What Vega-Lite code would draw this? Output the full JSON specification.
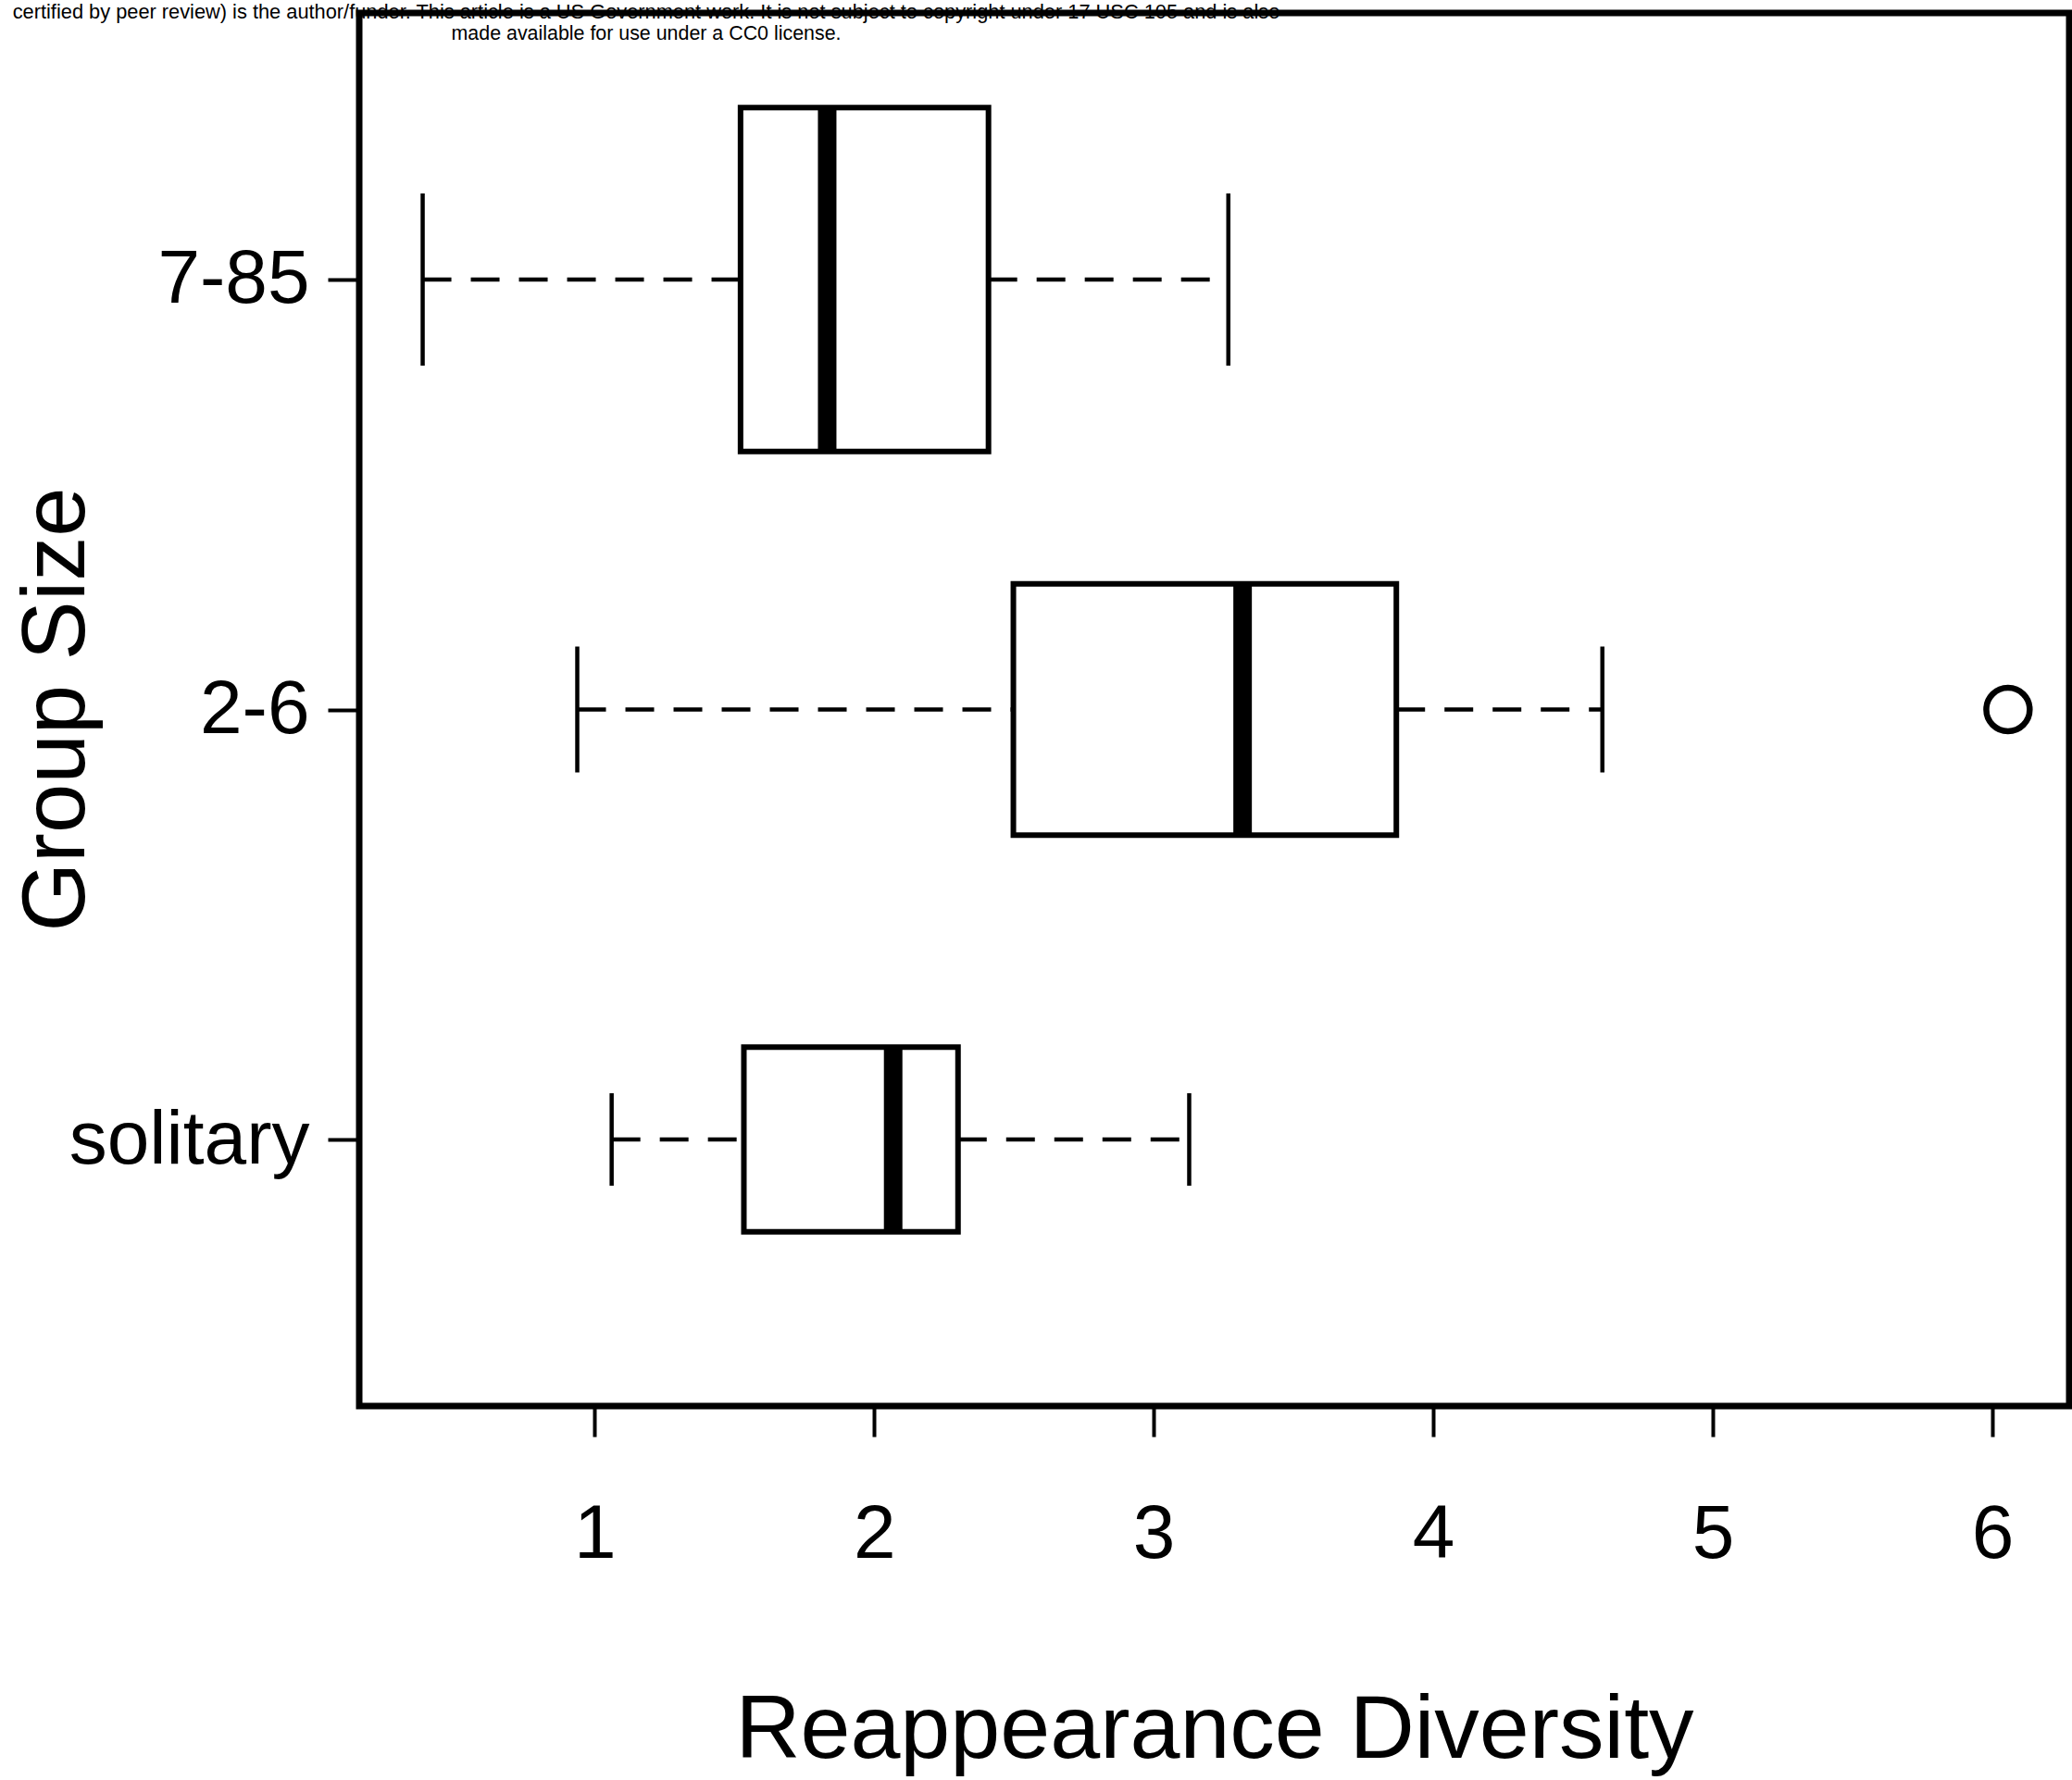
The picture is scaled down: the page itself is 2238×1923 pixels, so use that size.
{
  "$schema": "https://vega.github.io/schema/vega-lite/v6.json",
  "width": 1847,
  "height": 1505,
  "autosize": {"type": "none"},
  "padding": {"left": 388, "top": 14, "right": 3, "bottom": 404},
  "background": "white",
  "title": {
    "text": "certified by peer review) is the author/funder. This article is a US Government work. It is not subject to copyright under 17 USC 105 and is also",
    "subtitle": "made available for use under a CC0 license.",
    "anchor": "start",
    "align": "center",
    "frame": "group",
    "dx": 310,
    "offset": -33,
    "font": "Liberation Sans",
    "fontSize": 21.8,
    "fontWeight": "normal",
    "color": "black",
    "subtitleFont": "Liberation Sans",
    "subtitleFontSize": 21.4,
    "subtitleColor": "black",
    "subtitlePadding": 1
  },
  "datasets": {
    "boxes": [
      {"group": "7-85", "lower": 0.385, "q1": 1.522, "median": 1.832, "q3": 2.409, "upper": 3.267, "relwidth": 0.8},
      {"group": "2-6", "lower": 0.938, "q1": 2.498, "median": 3.318, "q3": 3.868, "upper": 4.605, "relwidth": 0.585},
      {"group": "solitary", "lower": 1.061, "q1": 1.534, "median": 2.068, "q3": 2.3, "upper": 3.127, "relwidth": 0.43}
    ],
    "outliers": [
      {"group": "2-6", "value": 6.056}
    ]
  },
  "config": {
    "font": "Liberation Sans",
    "view": {"stroke": "black", "strokeWidth": 7, "fill": "white"},
    "axis": {"grid": false, "domain": false, "tickColor": "black", "labelColor": "black", "titleColor": "black", "labelFont": "Liberation Sans", "titleFont": "Liberation Sans", "titleFontWeight": "normal", "labelLimit": 1000}
  },
  "resolve": {"scale": {"size": "independent"}},
  "encoding": {
    "y": {
      "field": "group",
      "type": "nominal",
      "scale": {"type": "point", "domain": ["7-85", "2-6", "solitary"], "padding": 0.62},
      "axis": {
        "title": "Group Size",
        "titleFontSize": 96,
        "titleAngle": -90,
        "titleAlign": "center",
        "titleBaseline": "alphabetic",
        "titleX": -298,
        "titleY": 752,
        "labelFontSize": 82,
        "labelPadding": 20,
        "labelLimit": 1000,
        "tickSize": 34,
        "tickWidth": 4,
        "labelAngle": 0
      }
    }
  },
  "layer": [
    {
      "data": {"name": "boxes"},
      "mark": {"type": "rule", "stroke": "black", "strokeWidth": 4.5, "strokeDash": [31, 21], "opacity": 1},
      "encoding": {
        "x": {
          "field": "lower",
          "type": "quantitative",
          "scale": {"domain": [0.158, 6.275], "nice": false, "zero": false},
          "axis": {
            "title": "Reappearance Diversity",
            "values": [1, 2, 3, 4, 5, 6],
            "format": "d",
            "titleFontSize": 97,
            "titleBaseline": "alphabetic",
            "titleY": 379,
            "labelFontSize": 82,
            "labelPadding": 65,
            "tickSize": 33,
            "tickWidth": 4
          }
        },
        "x2": {"field": "q1"}
      }
    },
    {
      "data": {"name": "boxes"},
      "mark": {"type": "rule", "stroke": "black", "strokeWidth": 4.5, "strokeDash": [31, 21], "opacity": 1},
      "encoding": {
        "x": {"field": "q3", "type": "quantitative"},
        "x2": {"field": "upper"}
      }
    },
    {
      "data": {"name": "boxes"},
      "mark": {"type": "tick", "color": "black", "thickness": 4.5, "orient": "vertical", "opacity": 1},
      "encoding": {
        "x": {"field": "lower", "type": "quantitative"},
        "size": {"field": "relwidth", "type": "quantitative", "scale": {"domain": [0, 1], "range": [0, 232.25]}, "legend": null}
      }
    },
    {
      "data": {"name": "boxes"},
      "mark": {"type": "tick", "color": "black", "thickness": 4.5, "orient": "vertical", "opacity": 1},
      "encoding": {
        "x": {"field": "upper", "type": "quantitative"},
        "size": {"field": "relwidth", "type": "quantitative", "scale": {"domain": [0, 1], "range": [0, 232.25]}, "legend": null}
      }
    },
    {
      "data": {"name": "boxes"},
      "mark": {"type": "bar", "fill": "white", "stroke": "black", "strokeWidth": 6, "orient": "horizontal", "opacity": 1},
      "encoding": {
        "x": {"field": "q1", "type": "quantitative"},
        "x2": {"field": "q3"},
        "size": {"field": "relwidth", "type": "quantitative", "scale": {"domain": [0, 1], "range": [0, 464.5]}, "legend": null}
      }
    },
    {
      "data": {"name": "boxes"},
      "mark": {"type": "tick", "color": "black", "thickness": 20, "orient": "vertical", "opacity": 1},
      "encoding": {
        "x": {"field": "median", "type": "quantitative"},
        "size": {"field": "relwidth", "type": "quantitative", "scale": {"domain": [0, 1], "range": [0, 464.5]}, "legend": null}
      }
    },
    {
      "data": {"name": "outliers"},
      "mark": {"type": "point", "shape": "circle", "filled": false, "stroke": "black", "strokeWidth": 6.5, "size": 2200, "opacity": 1},
      "encoding": {
        "x": {"field": "value", "type": "quantitative"}
      }
    }
  ]
}
